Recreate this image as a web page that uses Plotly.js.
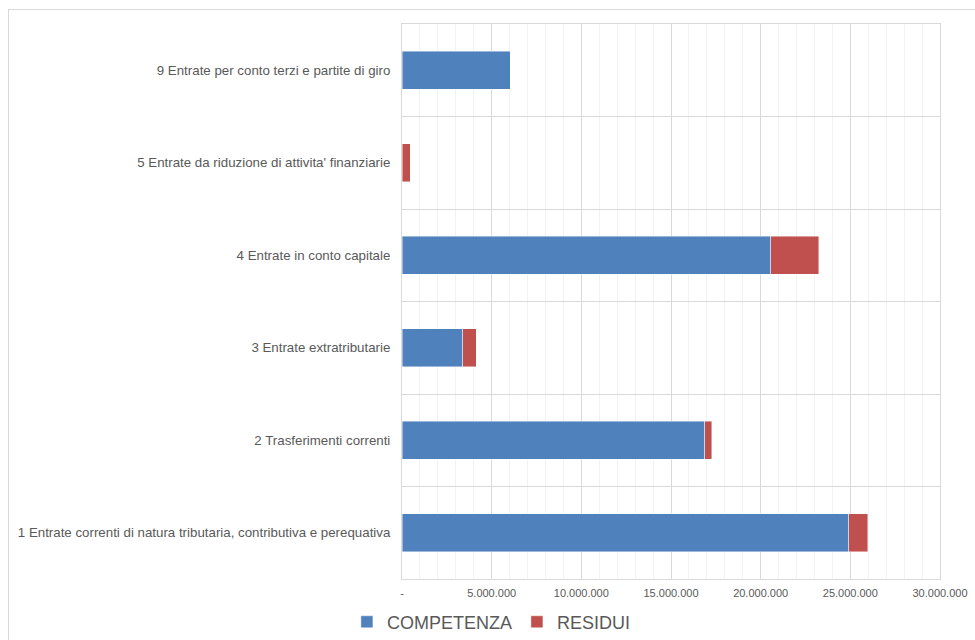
<!DOCTYPE html>
<html>
<head>
<meta charset="utf-8">
<script src="https://cdn.plot.ly/plotly-3.0.1.min.js"></script>
<style>
  html, body { margin: 0; padding: 0; background: #ffffff; }
  #frame { position: absolute; left: 8px; top: 9px; right: 0; bottom: 0;
           border-left: 1px solid #d9d9d9; border-top: 1px solid #d9d9d9; }
  #chart { position: absolute; left: 0; top: 0; width: 975px; height: 640px; }
</style>
</head>
<body>
<div id="frame"></div>
<div id="chart"></div>
<script>
const categories = [
  "1 Entrate correnti di natura tributaria, contributiva e perequativa",
  "2 Trasferimenti correnti",
  "3 Entrate extratributarie",
  "4 Entrate in conto capitale",
  "5 Entrate da riduzione di attivita' finanziarie",
  "9 Entrate per conto terzi e partite di giro"
];
const competenza = [24920000, 16870000, 3400000, 20560000, 0, 6030000];
const residui = [1060000, 390000, 730000, 2680000, 470000, 0];
const xTickVals = [0, 5000000, 10000000, 15000000, 20000000, 25000000, 30000000];
const xTickText = ["-", "5.000.000", "10.000.000", "15.000.000", "20.000.000", "25.000.000", "30.000.000"];

const font = { family: "'Liberation Sans', Arial, sans-serif", color: "#595959" };
const edge = { color: "rgba(255,255,255,0.55)", width: 0.8 };

const traces = [
  { type: "bar", orientation: "h", name: "COMPETENZA", y: categories, x: competenza,
    marker: { color: "#4F81BD", line: edge }, hoverinfo: "x+name" },
  { type: "bar", orientation: "h", name: "RESIDUI", y: categories, x: residui,
    marker: { color: "#C0504D", line: edge }, hoverinfo: "x+name" }
];

const layout = {
  width: 975, height: 640,
  margin: { l: 402, r: 35, t: 24, b: 61, pad: 0 },
  paper_bgcolor: "rgba(0,0,0,0)",
  plot_bgcolor: "rgba(0,0,0,0)",
  barmode: "stack",
  bargap: 0.59,
  font: font,
  showlegend: true,
  legend: {
    orientation: "h", xref: "container", yref: "container",
    x: 0.504, xanchor: "center", y: 0.028, yanchor: "middle",
    font: { family: font.family, color: "#595959", size: 18 },
    traceorder: "normal", itemclick: false, itemdoubleclick: false
  },
  xaxis: {
    range: [0, 30000000], fixedrange: true,
    tickmode: "array", tickvals: xTickVals, ticktext: xTickText,
    tickfont: { family: font.family, color: "#595959", size: 11 },
    showgrid: true, gridcolor: "#d9d9d9", gridwidth: 1,
    minor: { dtick: 1000000, tick0: 0, showgrid: true, gridcolor: "#f2f2f2", gridwidth: 1, ticks: "" },
    zeroline: false, showline: true, linecolor: "#d9d9d9", mirror: true,
    ticks: "", ticklabelstandoff: 4
  },
  yaxis: {
    type: "category", categoryorder: "array", categoryarray: categories,
    range: [-0.5, 5.5], fixedrange: true,
    tickson: "boundaries", ticks: "",
    showgrid: true, gridcolor: "#d9d9d9", gridwidth: 1,
    showline: true, linecolor: "#d9d9d9", mirror: true,
    tickfont: { family: font.family, color: "#595959", size: 13.3 },
    ticklabelstandoff: 8, automargin: false
  },
  yaxis2: {
    overlaying: "y", anchor: "x", side: "left",
    range: [-0.5, 5.5], tick0: 0, dtick: 1, fixedrange: true,
    showgrid: true, gridcolor: "#f0f0f0", gridwidth: 1,
    showticklabels: false, ticks: "", zeroline: false, showline: false
  }
};

Plotly.newPlot("chart", traces, layout, { displayModeBar: false, staticPlot: true });
</script>
</body>
</html>
